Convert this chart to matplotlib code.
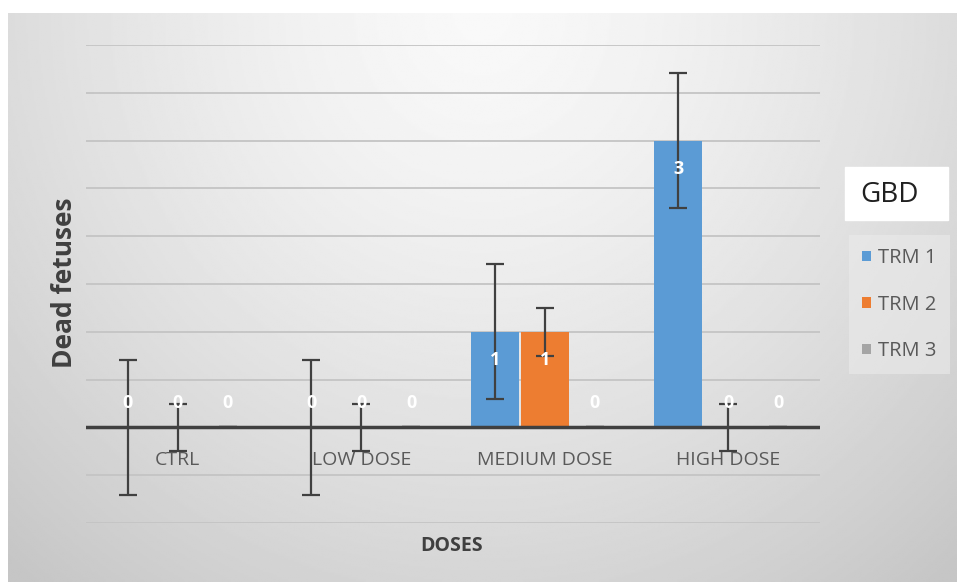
import numpy as np
import matplotlib.pyplot as plt

plt.rcParams['font.family'] = ['Open Sans', 'DejaVu Sans']

categories = ['CTRL', 'LOW DOSE', 'MEDIUM DOSE', 'HIGH DOSE']
series = ['TRM 1', 'TRM 2', 'TRM 3']
values = {
    'TRM 1': [0, 0, 1, 3],
    'TRM 2': [0, 0, 1, 0],
    'TRM 3': [0, 0, 0, 0],
}
errors = {
    'TRM 1': [0.707, 0.707, 0.707, 0.707],
    'TRM 2': [0.25, 0.25, 0.25, 0.25],
    'TRM 3': [0, 0, 0, 0],
}
colors = ['#5B9BD5', '#ED7D31', '#A5A5A5']

W, H = 957, 582
fig = plt.figure(figsize=(W / 100, H / 100), dpi=100)
fig.patch.set_facecolor('white')

# gradient background of the chart area
bg = fig.add_axes([8 / W, 0, 1 - 8 / W, 1 - 13 / H])
yy, xx = np.mgrid[0:1:300j, 0:1:500j]
r = np.sqrt(((xx - 0.5) / 0.75) ** 2 + ((yy - 0.0) / 1.3) ** 2)
shade = 0.975 - 0.2 * np.clip(r, 0, 1) ** 1.4
bg.imshow(shade, cmap='gray', vmin=0, vmax=1, aspect='auto', extent=(0, 1, 1, 0))
bg.axis('off')

ax = fig.add_axes([86 / W, 59 / H, 734 / W, 478 / H])
ax.set_facecolor('none')
x = np.arange(len(categories))
step = 0.272
bw = 0.26
for i, (s, c) in enumerate(zip(series, colors)):
    pos = x + (i - 1) * step
    ax.bar(pos, values[s], width=bw, color=c, linewidth=0, zorder=2, label=s)
    ax.errorbar(pos, values[s], yerr=errors[s], fmt='none', ecolor='#404040',
                elinewidth=1.6, capsize=6.5, capthick=1.6, zorder=4)
    for p, v in zip(pos, values[s]):
        yl = v - 0.3 if v > 0 else 0.25
        ax.text(p, yl, str(v), color='white', fontsize=13, fontweight='bold',
                ha='center', va='center', zorder=5)

ax.set_xlim(-0.5, 3.5)
ax.set_ylim(-1, 4)
for g in np.arange(-1, 4.01, 0.5):
    if g != 0:
        ax.axhline(g, color='#c4c4c4', lw=1.3, zorder=1)
ax.axhline(0, color='#404040', lw=2.5, zorder=3)
ax.set_yticks([])
ax.set_xticks([])
for sp in ax.spines.values():
    sp.set_visible(False)
for xi, cat in zip(x, categories):
    ax.text(xi, -0.34, cat, ha='center', va='center', fontsize=14,
            color='#595959', zorder=5)

fig.text(452 / W, 1 - 546 / H, 'DOSES', ha='center', va='center',
         fontsize=14, fontweight='bold', color='#404040')
fig.text(64 / W, 1 - 283 / H, 'Dead fetuses', ha='center', va='center',
         rotation=90, fontsize=19, fontweight='bold', color='#404040')

# legend title box
fig.patches.append(plt.Rectangle((845 / W, 1 - 220 / H), 103 / W, 53 / H,
                                 transform=fig.transFigure, color='white'))
fig.text(889 / W, 1 - 195 / H, 'GBD', ha='center', va='center',
         fontsize=20, color='#202020')

leg = ax.legend(loc='upper left', bbox_to_anchor=(849 / W, 1 - 235 / H),
                bbox_transform=fig.transFigure, frameon=True, fontsize=14.5,
                handlelength=0.45, handleheight=0.45, handletextpad=0.35,
                labelspacing=1.32, borderpad=0.65, borderaxespad=0)
leg.get_frame().set_facecolor('#ebebeb')
leg.get_frame().set_edgecolor('none')
leg.get_frame().set_alpha(0.6)
leg.get_frame().set_boxstyle('square', pad=0)
for t in leg.get_texts():
    t.set_color('#595959')

fig.savefig('out.png', dpi=100)
